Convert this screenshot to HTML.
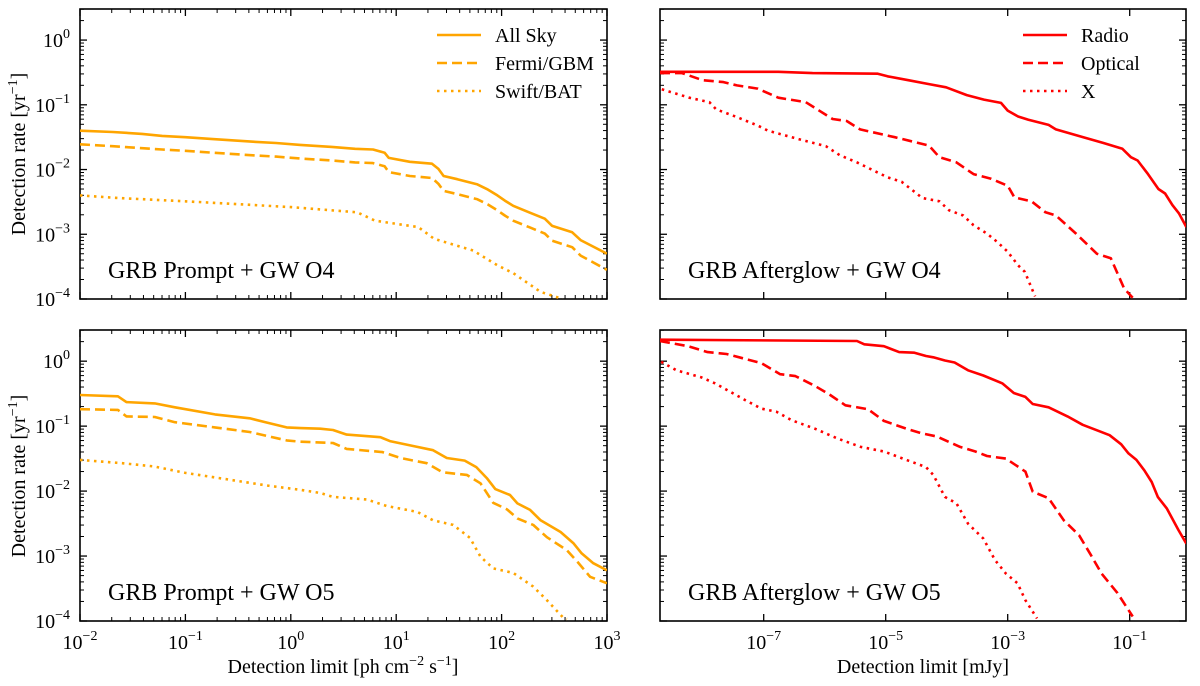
<!DOCTYPE html>
<html><head><meta charset="utf-8"><style>
body{margin:0;background:#fff}
svg{display:block}
text{font-family:"Liberation Serif",serif;fill:#000}
</style></head><body>
<svg id="fig" width="1200" height="686" viewBox="0 0 1200 686" xmlns="http://www.w3.org/2000/svg"></svg>
<script>
// ---- data (log10 values) ----
const allSkyO4X=[-2,-1.69,-1.41,-1.22,-1.0,-0.74,-0.36,-0.14,0.09,0.39,0.61,0.78,0.89,0.93,1.13,1.34,1.40,1.45,1.58,1.77,1.87,1.96,2.03,2.11,2.26,2.41,2.48,2.67,2.75,3];
const allSkyO4Y=[-1.40,-1.42,-1.45,-1.48,-1.50,-1.53,-1.57,-1.59,-1.62,-1.65,-1.68,-1.69,-1.74,-1.82,-1.88,-1.91,-1.99,-2.10,-2.15,-2.23,-2.31,-2.40,-2.48,-2.56,-2.66,-2.76,-2.87,-2.97,-3.09,-3.30];
const fermiO4Y=[-1.61,-1.64,-1.67,-1.69,-1.71,-1.74,-1.78,-1.80,-1.83,-1.86,-1.89,-1.90,-1.95,-2.04,-2.10,-2.13,-2.22,-2.33,-2.38,-2.46,-2.54,-2.63,-2.71,-2.79,-2.89,-2.99,-3.10,-3.20,-3.33,-3.55];
const swiftO4X=[-2,-1.64,-0.89,0,0.63,0.80,1.21,1.36,1.73,1.96,2.11,2.37,2.58];
const swiftO4Y=[-2.40,-2.44,-2.50,-2.58,-2.66,-2.79,-2.89,-3.07,-3.25,-3.48,-3.6,-3.89,-4.0];

const allSkyO5X=[-2,-1.64,-1.56,-1.29,-1.10,-0.72,-0.39,-0.24,-0.04,0.09,0.28,0.40,0.53,0.85,0.94,1.20,1.35,1.48,1.65,1.76,1.86,1.94,2.08,2.15,2.27,2.37,2.56,2.68,2.76,2.87,3.0];
const allSkyO5Y=[-0.52,-0.54,-0.63,-0.65,-0.71,-0.82,-0.88,-0.94,-1.02,-1.03,-1.04,-1.06,-1.13,-1.17,-1.23,-1.32,-1.37,-1.49,-1.53,-1.63,-1.80,-1.97,-2.06,-2.19,-2.29,-2.45,-2.63,-2.80,-2.96,-3.11,-3.22];
const fermiO5X=[-2,-1.64,-1.56,-1.29,-1.10,-0.72,-0.39,-0.04,0.09,0.40,0.53,0.87,1.04,1.29,1.44,1.67,1.80,1.92,2.05,2.15,2.30,2.43,2.62,2.72,2.84,3.0];
const fermiO5Y=[-0.74,-0.75,-0.85,-0.86,-0.94,-1.02,-1.09,-1.22,-1.24,-1.26,-1.35,-1.40,-1.49,-1.57,-1.71,-1.75,-1.88,-2.18,-2.28,-2.42,-2.52,-2.71,-2.91,-3.09,-3.32,-3.42];
const swiftO5X=[-2,-1.6,-1.3,-1.0,-0.6,-0.2,0.09,0.28,0.40,0.72,0.91,1.20,1.35,1.54,1.70,1.80,1.92,2.11,2.30,2.43,2.58,2.62];
const swiftO5Y=[-1.52,-1.57,-1.62,-1.72,-1.82,-1.92,-1.98,-2.03,-2.09,-2.13,-2.23,-2.32,-2.45,-2.52,-2.72,-3.01,-3.19,-3.26,-3.47,-3.68,-3.94,-3.97];

const radioO4X=[-8.70,-6.76,-6.20,-5.13,-4.97,-4.63,-4.29,-4.01,-3.67,-3.39,-3.11,-3.0,-2.83,-2.66,-2.33,-2.21,-1.76,-1.43,-1.12,-0.98,-0.87,-0.70,-0.53,-0.42,-0.30,-0.19,-0.07];
const radioO4Y=[-0.49,-0.49,-0.51,-0.52,-0.56,-0.62,-0.68,-0.73,-0.85,-0.92,-0.97,-1.09,-1.18,-1.23,-1.31,-1.38,-1.50,-1.59,-1.68,-1.81,-1.86,-2.07,-2.30,-2.37,-2.55,-2.68,-2.89];
const opticalO4X=[-8.70,-8.34,-8.0,-7.66,-7.44,-7.10,-6.76,-6.31,-5.87,-5.64,-5.42,-4.85,-4.29,-4.12,-3.84,-3.56,-3.28,-3.0,-2.89,-2.61,-2.38,-2.21,-1.88,-1.54,-1.31,-1.09,-0.95];
const opticalO4Y=[-0.51,-0.51,-0.62,-0.65,-0.70,-0.75,-0.89,-0.96,-1.22,-1.25,-1.38,-1.50,-1.63,-1.81,-1.89,-2.07,-2.14,-2.25,-2.43,-2.49,-2.66,-2.71,-2.99,-3.30,-3.37,-3.84,-3.98];
const xrayO4X=[-8.67,-8.22,-7.89,-7.78,-7.44,-7.10,-6.93,-6.43,-5.98,-5.75,-5.47,-5.19,-4.97,-4.74,-4.52,-4.40,-4.12,-3.96,-3.73,-3.56,-3.34,-3.17,-3.0,-2.83,-2.72,-2.55];
const xrayO4Y=[-0.76,-0.89,-0.96,-1.07,-1.19,-1.32,-1.40,-1.53,-1.64,-1.78,-1.89,-2.02,-2.12,-2.19,-2.35,-2.44,-2.49,-2.63,-2.71,-2.86,-2.99,-3.12,-3.27,-3.48,-3.58,-3.96];

const radioO5X=[-8.70,-5.47,-5.35,-5.03,-4.78,-4.53,-4.34,-4.22,-4.03,-3.87,-3.65,-3.40,-3.09,-2.90,-2.71,-2.59,-2.33,-2.02,-1.77,-1.52,-1.33,-1.14,-1.02,-0.89,-0.76,-0.64,-0.54,-0.39,-0.20,-0.07];
const radioO5Y=[0.33,0.31,0.26,0.23,0.14,0.13,0.08,0.06,0.01,-0.02,-0.14,-0.22,-0.34,-0.49,-0.55,-0.66,-0.71,-0.85,-0.98,-1.07,-1.14,-1.28,-1.42,-1.52,-1.68,-1.86,-2.09,-2.27,-2.60,-2.81];
const opticalO5X=[-8.70,-8.24,-7.92,-7.61,-7.04,-6.73,-6.48,-6.16,-5.91,-5.66,-5.29,-5.03,-4.66,-4.41,-4.16,-3.78,-3.53,-3.34,-3.03,-2.71,-2.59,-2.33,-2.08,-1.83,-1.64,-1.46,-1.20,-0.95];
const opticalO5Y=[0.31,0.23,0.14,0.11,-0.03,-0.20,-0.23,-0.38,-0.52,-0.68,-0.74,-0.92,-1.04,-1.11,-1.16,-1.32,-1.39,-1.46,-1.50,-1.70,-2.01,-2.11,-2.45,-2.68,-2.98,-3.27,-3.57,-3.93];
const xrayO5X=[-8.68,-8.43,-8.02,-7.80,-7.30,-7.04,-6.79,-6.54,-6.16,-5.79,-5.41,-5.03,-4.66,-4.34,-4.22,-4.03,-3.84,-3.65,-3.40,-3.21,-3.03,-2.84,-2.71,-2.52];
const xrayO5Y=[-0.01,-0.14,-0.25,-0.34,-0.60,-0.73,-0.78,-0.91,-1.04,-1.19,-1.32,-1.39,-1.52,-1.63,-1.75,-2.09,-2.19,-2.50,-2.73,-3.06,-3.27,-3.42,-3.68,-3.96];

const leftXTicks=[-2,-1,0,1,2,3];
const rightXTicks=[-7,-5,-3,-1];
const yTicks=[-4,-3,-2,-1,0];

const NS="http://www.w3.org/2000/svg";
const svg=document.getElementById('fig');
function mk(tag,attrs,parent){const e=document.createElementNS(NS,tag);for(const k in attrs)e.setAttribute(k,attrs[k]);(parent||svg).appendChild(e);return e;}

const panels=[
 {name:'prompt-o4',x0:80,x1:607,y0:9,y1:299,lx:-2,hx:3,minor:true,xt:leftXTicks,showX:false,showY:true,label:'GRB Prompt + GW O4'},
 {name:'prompt-o5',x0:80,x1:607,y0:330,y1:621,lx:-2,hx:3,minor:true,xt:leftXTicks,showX:true,showY:true,label:'GRB Prompt + GW O5'},
 {name:'afterglow-o4',x0:660,x1:1186,y0:9,y1:299,lx:-8.7,hx:-0.077,minor:false,xt:rightXTicks,showX:false,showY:false,label:'GRB Afterglow + GW O4'},
 {name:'afterglow-o5',x0:660,x1:1186,y0:330,y1:621,lx:-8.7,hx:-0.077,minor:false,xt:rightXTicks,showX:true,showY:false,label:'GRB Afterglow + GW O5'}
];
const ly=-4,hy=0.48;
panels.forEach(p=>{
 p.sx=v=>p.x0+(v-p.lx)/(p.hx-p.lx)*(p.x1-p.x0);
 p.sy=v=>p.y1-(v-ly)/(hy-ly)*(p.y1-p.y0);
});

function drawPanel(p){
 const g=mk('g',{});
 
 
 const clipId='clip-'+p.name;
 const cp=mk('clipPath',{id:clipId},g);
 mk('rect',{x:p.x0,y:p.y0,width:p.x1-p.x0,height:p.y1-p.y0},cp);
 p.g=g;p.clip=clipId;
 yTicks.forEach(t=>{
  const y=p.sy(t);
  mk('line',{x1:p.x0,x2:p.x0+7,y1:y,y2:y,stroke:'#000','stroke-width':1.3},g);
  mk('line',{x1:p.x1,x2:p.x1-7,y1:y,y2:y,stroke:'#000','stroke-width':1.3},g);
  if(p.showY){
   const tx=mk('text',{x:p.x0-10,y:y+7,'font-size':20,'text-anchor':'end'},g);
   
   
   tx.innerHTML='10<tspan dy="-9" font-size="14">'+(t<0?'\u2212'+(-t):t)+'</tspan>';
  }
 });
 for(let d=-4;d<=0;d++)for(let m=2;m<=9;m++){
  const v=d+Math.log10(m); if(v>hy)continue;
  const y=p.sy(v);
  mk('line',{x1:p.x0,x2:p.x0+4,y1:y,y2:y,stroke:'#000','stroke-width':1},g);
  mk('line',{x1:p.x1,x2:p.x1-4,y1:y,y2:y,stroke:'#000','stroke-width':1},g);
 }
 p.xt.forEach(t=>{
  const x=p.sx(t);
  mk('line',{x1:x,x2:x,y1:p.y1,y2:p.y1-7,stroke:'#000','stroke-width':1.3},g);
  mk('line',{x1:x,x2:x,y1:p.y0,y2:p.y0+7,stroke:'#000','stroke-width':1.3},g);
  if(p.showX){
   const tx=mk('text',{x:x,y:p.y1+28,'font-size':20,'text-anchor':'middle'},g);
   
   
   tx.innerHTML='10<tspan dy="-9" font-size="14">'+(t<0?'\u2212'+(-t):t)+'</tspan>';
  }
 });
 if(p.minor){
  for(let d=-2;d<3;d++)for(let m=2;m<=9;m++){
   const x=p.sx(d+Math.log10(m));
   mk('line',{x1:x,x2:x,y1:p.y1,y2:p.y1-4,stroke:'#000','stroke-width':1},g);
   mk('line',{x1:x,x2:x,y1:p.y0,y2:p.y0+4,stroke:'#000','stroke-width':1},g);
  }
 }
 const fr=mk('rect',{x:p.x0,y:p.y0,width:p.x1-p.x0,height:p.y1-p.y0,fill:'none',stroke:'#000','stroke-width':1.6},g);
 
 
 const lb=mk('text',{x:p.x0+28,y:p.y1-21,'font-size':24},g);
 
 
 lb.textContent=p.label;
}
panels.forEach(drawPanel);

const dashes={solid:'',dashed:'10,5',dotted:'2.5,4.5'};
function series(p,xs,ys,color,style,name){
 let d='';
 for(let i=0;i<xs.length;i++){d+=(i?'L':'M')+p.sx(xs[i]).toFixed(1)+','+p.sy(ys[i]).toFixed(1);}
 const path=mk('path',{d:d,fill:'none',stroke:color,'stroke-width':2.6,'stroke-dasharray':dashes[style],'clip-path':'url(#'+p.clip+')','stroke-linejoin':'round'},p.g);
 
 
}
const OR='#FFA500',RD='#FF0000';
series(panels[0],allSkyO4X,allSkyO4Y,OR,'solid','all-sky-o4-line');
series(panels[0],allSkyO4X,fermiO4Y,OR,'dashed','fermi-gbm-o4-line');
series(panels[0],swiftO4X,swiftO4Y,OR,'dotted','swift-bat-o4-line');
series(panels[1],allSkyO5X,allSkyO5Y,OR,'solid','all-sky-o5-line');
series(panels[1],fermiO5X,fermiO5Y,OR,'dashed','fermi-gbm-o5-line');
series(panels[1],swiftO5X,swiftO5Y,OR,'dotted','swift-bat-o5-line');
series(panels[2],radioO4X,radioO4Y,RD,'solid','radio-o4-line');
series(panels[2],opticalO4X,opticalO4Y,RD,'dashed','optical-o4-line');
series(panels[2],xrayO4X,xrayO4Y,RD,'dotted','x-ray-o4-line');
series(panels[3],radioO5X,radioO5Y,RD,'solid','radio-o5-line');
series(panels[3],opticalO5X,opticalO5Y,RD,'dashed','optical-o5-line');
series(panels[3],xrayO5X,xrayO5Y,RD,'dotted','x-ray-o5-line');

function legend(x,labels,color){
 const g=mk('g',{});
 
 
 const st=['solid','dashed','dotted'];
 labels.forEach((l,i)=>{
  const y=35+i*28;
  const ln=mk('line',{x1:x,x2:x+44,y1:y,y2:y,stroke:color,'stroke-width':2.6,'stroke-dasharray':dashes[st[i]]},g);
  
  
  const t=mk('text',{x:x+58,y:y+7,'font-size':20},g);
  
  
  t.textContent=l;
 });
}
legend(437,['All Sky','Fermi/GBM','Swift/BAT'],OR);
legend(1023,['Radio','Optical','X'],RD);

function ylab(cy){
 const t=mk('text',{x:0,y:0,'font-size':20,'text-anchor':'middle',transform:'translate(25,'+cy+') rotate(-90)'});
 
 
 t.innerHTML='Detection rate [yr<tspan dy="-8" font-size="14">\u22121</tspan><tspan dy="8">]</tspan>';
}
ylab(154);ylab(476);
const xl1=mk('text',{x:343,y:673,'font-size':20,'text-anchor':'middle'});


xl1.setAttribute('xml:space','preserve');
xl1.innerHTML='Detection limit  [ph cm<tspan dy="-8" font-size="14">\u22122</tspan><tspan dy="8"> s</tspan><tspan dy="-8" font-size="14">\u22121</tspan><tspan dy="8">]</tspan>';
const xl2=mk('text',{x:923,y:673,'font-size':20,'text-anchor':'middle'});


xl2.setAttribute('xml:space','preserve');
xl2.textContent='Detection limit  [mJy]';
</script>
</body></html>
